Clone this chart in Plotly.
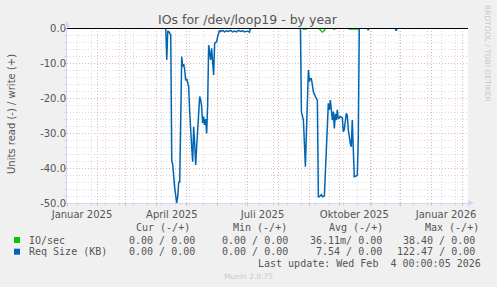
import plotly.graph_objects as go

# ---------------- data ----------------
io_dates = ["2025-01-01", "2025-08-25", "2025-08-26", "2025-08-29", "2025-08-30",
            "2025-09-10", "2025-09-11", "2025-09-13", "2025-09-14", "2025-09-15",
            "2025-09-17", "2025-09-18", "2025-09-25", "2025-09-26", "2025-09-27",
            "2025-10-10", "2025-10-11", "2025-10-20", "2025-10-21", "2026-02-04"]
io_values = [0, 0, -0.3, -0.3, 0,
             0, -0.3, -1.0, -1.2, -1.0,
             -0.3, 0, 0, -0.5, 0,
             0, -0.3, -0.3, 0, 0]

req_dates = ["2025-01-01", "2025-04-10", "2025-04-11", "2025-04-12", "2025-04-13",
             "2025-04-15", "2025-04-16", "2025-04-17", "2025-04-19", "2025-04-20",
             "2025-04-21", "2025-04-22", "2025-04-23", "2025-04-24", "2025-04-26",
             "2025-04-27", "2025-04-28", "2025-04-29", "2025-04-30", "2025-05-01",
             "2025-05-02", "2025-05-03", "2025-05-04", "2025-05-05", "2025-05-06",
             "2025-05-07", "2025-05-08", "2025-05-09", "2025-05-10", "2025-05-11",
             "2025-05-12", "2025-05-13", "2025-05-14", "2025-05-15", "2025-05-16",
             "2025-05-17", "2025-05-18", "2025-05-19", "2025-05-20", "2025-05-21",
             "2025-05-22", "2025-05-23", "2025-05-24", "2025-05-25", "2025-05-26",
             "2025-05-27", "2025-05-28", "2025-05-29", "2025-05-30", "2025-05-31",
             "2025-06-01", "2025-06-02", "2025-06-03", "2025-06-04", "2025-06-06",
             "2025-06-08", "2025-06-10", "2025-06-12", "2025-06-14", "2025-06-16",
             "2025-06-18", "2025-06-20", "2025-06-22", "2025-06-24", "2025-06-26",
             "2025-06-28", "2025-06-30", "2025-07-02", "2025-07-03", "2025-07-04",
             "2025-08-23", "2025-08-24", "2025-08-25", "2025-08-26", "2025-08-27",
             "2025-08-28", "2025-08-29", "2025-08-30", "2025-08-31", "2025-09-01",
             "2025-09-02", "2025-09-03", "2025-09-04", "2025-09-05", "2025-09-07",
             "2025-09-09", "2025-09-10", "2025-09-11", "2025-09-13", "2025-09-14",
             "2025-09-16", "2025-09-18", "2025-09-19", "2025-09-20", "2025-09-21",
             "2025-09-22", "2025-09-24", "2025-09-25", "2025-09-26", "2025-09-27",
             "2025-09-28", "2025-09-29", "2025-09-30", "2025-10-02", "2025-10-04",
             "2025-10-05", "2025-10-06", "2025-10-08", "2025-10-09", "2025-10-10",
             "2025-10-12", "2025-10-13", "2025-10-14", "2025-10-15", "2025-10-16",
             "2025-10-18", "2025-10-19", "2025-10-20", "2025-10-21", "2025-10-29",
             "2025-10-30", "2025-10-31", "2025-11-26", "2025-11-27", "2025-11-28",
             "2026-02-04"]
req_values = [0, 0, -9.1, -1.0, -1.0,
              -2.0, -38.0, -39.0, -45.8, -48.0,
              -50.0, -48.2, -44.0, -44.0, -8.2,
              -11.0, -10.3, -12.0, -15.0, -14.5,
              -16.0, -16.8, -24.0, -30.5, -34.0,
              -38.2, -28.2, -33.0, -39.1, -34.0,
              -29.0, -24.0, -19.6, -20.5, -22.5,
              -27.2, -25.3, -27.7, -26.0, -30.1,
              -22.0, -4.9, -6.8, -9.1, -5.8,
              -9.0, -13.4, -4.4, -4.2, -3.9,
              -2.5, -1.5, -0.6, -1.0, -0.7,
              -1.1, -0.8, -1.0, -0.7, -1.1,
              -0.9, -1.1, -0.7, -1.0, -0.8,
              -1.1, -0.9, -1.0, -1.2, 0,
              0, -24.0, -25.0, -26.3, -33.0,
              -39.6, -30.0, -18.0, -12.0, -15.3,
              -14.5, -14.5, -16.0, -18.2, -19.6,
              -20.6, -48.2, -48.2, -47.6, -48.2,
              -48.0, -35.0, -30.0, -21.5, -23.4,
              -20.6, -26.3, -23.9, -28.7, -24.5,
              -26.3, -23.4, -26.0, -25.3, -25.6,
              -29.6, -29.0, -24.4, -25.0, -29.1,
              -33.0, -33.9, -26.3, -33.0, -42.5,
              -42.3, -42.0, -32.0, 0, 0,
              -0.6, 0, 0, -0.8, 0,
              0]

month_ticks = ["2025-01-01", "2025-02-01", "2025-03-01", "2025-04-01", "2025-05-01",
               "2025-06-01", "2025-07-01", "2025-08-01", "2025-09-01", "2025-10-01",
               "2025-11-01", "2025-12-01", "2026-01-01", "2026-02-01"]
month_labels = ["Januar 2025", "", "", "April 2025", "", "", "Juli 2025", "", "",
                "Oktober 2025", "", "", "Januar 2026", ""]
y_ticks = [0, -10, -20, -30, -40, -50]
y_labels = ["0.0", "-10.0", "-20.0", "-30.0", "-40.0", "-50.0"]

legend_names = ["IO/sec", "Req Size (KB)"]
legend_colors = ["#00CC00", "#0066B3"]
col_headers = ["Cur (-/+)", "Min (-/+)", "Avg (-/+)", "Max (-/+)"]
cur_vals = ["0.00 / 0.00", "0.00 / 0.00"]
min_vals = ["0.00 / 0.00", "0.00 / 0.00"]
avg_vals = ["36.11m/ 0.00", "7.54 / 0.00"]
max_vals = ["38.40 / 0.00", "122.47 / 0.00"]

# ---------------- layout helpers ----------------
W, H = 497, 287
L, R, T, B = 67, 468, 28, 203


def px(x):
    return (x - L) / (R - L)


def py(y):
    return (B - y) / (B - T)


MONO = "DejaVu Sans Mono"
SANS = "DejaVu Sans"
FONT_C = "#555555"
MAJ = "#EBB0B0"
MIN = "#DCDCDC"
AXIS = "#CFD6F8"

fig = go.Figure()
fig.add_trace(go.Scatter(x=io_dates, y=io_values, mode="lines",
                         line=dict(color=legend_colors[0], width=1.4),
                         showlegend=False, hoverinfo="skip", cliponaxis=False))
fig.add_trace(go.Scatter(x=req_dates, y=req_values, mode="lines",
                         line=dict(color=legend_colors[1], width=1.5),
                         showlegend=False, hoverinfo="skip"))

fig.update_layout(
    width=W, height=H,
    margin=dict(l=L, r=W - R, t=T, b=H - B, pad=0),
    paper_bgcolor="#F0F0F0", plot_bgcolor="#FFFFFF",
    font=dict(family=SANS, size=10, color=FONT_C),
    showlegend=False,
    xaxis=dict(
        type="date", range=["2025-01-01", "2026-02-07"],
        tickmode="array", tickvals=month_ticks, ticktext=month_labels,
        ticklabelshift=15,
        showgrid=True, gridcolor=MAJ, griddash="1px,2px", gridwidth=1,
        ticks="outside", ticklen=2, tickcolor=MAJ,
        showline=True, linecolor=AXIS, linewidth=1,
        zeroline=False, fixedrange=True,
        tickfont=dict(family=SANS, size=10, color=FONT_C),
        minor=dict(tick0="2025-01-12", dtick=14 * 86400000, showgrid=True,
                   gridcolor=MIN, griddash="1px,2px", ticks="outside",
                   ticklen=2, tickcolor=MIN),
    ),
    yaxis=dict(
        range=[-50, 0], tickmode="array", tickvals=y_ticks, ticktext=y_labels,
        showgrid=True, gridcolor=MAJ, griddash="1px,2px", gridwidth=1,
        ticks="outside", ticklen=2, tickcolor=MAJ,
        ticklabelstandoff=-4,
        showline=True, linecolor=AXIS, linewidth=1,
        zeroline=False, fixedrange=True,
        tickfont=dict(family=SANS, size=10, color=FONT_C),
        minor=dict(dtick=2, showgrid=True, gridcolor=MIN, griddash="1px,2px",
                   ticks="outside", ticklen=2, tickcolor=MIN),
    ),
)

shapes = []
# zero rule (drawn above the data)
shapes.append(dict(type="line", xref="paper", yref="paper", x0=0, x1=1,
                   y0=py(28.5), y1=py(28.5),
                   line=dict(color="#000000", width=1), layer="above"))
# axis arrows
shapes.append(dict(type="path", xref="paper", yref="paper", xsizemode="pixel",
                   ysizemode="pixel", xanchor=0, yanchor=1,
                   path="M -3,1 L 3,1 L 0,7 Z", fillcolor=AXIS,
                   line=dict(width=0), layer="above"))
shapes.append(dict(type="path", xref="paper", yref="paper", xsizemode="pixel",
                   ysizemode="pixel", xanchor=1, yanchor=0,
                   path="M 0,-3 L 0,3 L 6,0 Z", fillcolor=AXIS,
                   line=dict(width=0), layer="above"))
# legend colour boxes
for i, c in enumerate(legend_colors):
    yc = 240 + i * 11.7
    shapes.append(dict(type="rect", xref="paper", yref="paper",
                       x0=px(14), x1=px(20), y0=py(yc + 3), y1=py(yc - 3),
                       fillcolor=c, line=dict(width=0)))
fig.update_layout(shapes=shapes)

ann = []


def text(x, y, s, anchor="left", size=10, family=MONO, color=FONT_C, angle=0):
    ann.append(dict(xref="paper", yref="paper", x=px(x), y=py(y), text=s,
                    showarrow=False, xanchor=anchor, yanchor="middle",
                    textangle=angle,
                    font=dict(family=family, size=size, color=color)))


text(248, 19, "IOs for /dev/loop19 - by year", "center", 12.5, SANS, FONT_C)
text(11, 114, "Units read (-) / write (+)", "center", 10, SANS, FONT_C, -90)
text(488, 53, "RRDTOOL / TOBI OETIKER", "center", 7.5, SANS, "#C8C8C8", 90)

for hx, h in zip([134.3, 230.7, 326.7, 422.7], col_headers):
    text(hx, 227.3, h)
for i, name in enumerate(legend_names):
    yy = 240 + i * 11.7
    text(26.7, yy, name)
    text(197, yy, cur_vals[i], "right")
    text(290, yy, min_vals[i], "right")
    text(383.5, yy, avg_vals[i], "right")
    text(477, yy, max_vals[i], "right")
text(483, 263.3, "Last update: Wed Feb\u00a0\u00a04 00:00:05 2026", "right")
text(248, 276, "Munin 2.0.75", "center", 7.5, SANS, "#C8C8C8")

fig.update_layout(annotations=ann)

fig.write_html("out.html", config={"displayModeBar": False})
